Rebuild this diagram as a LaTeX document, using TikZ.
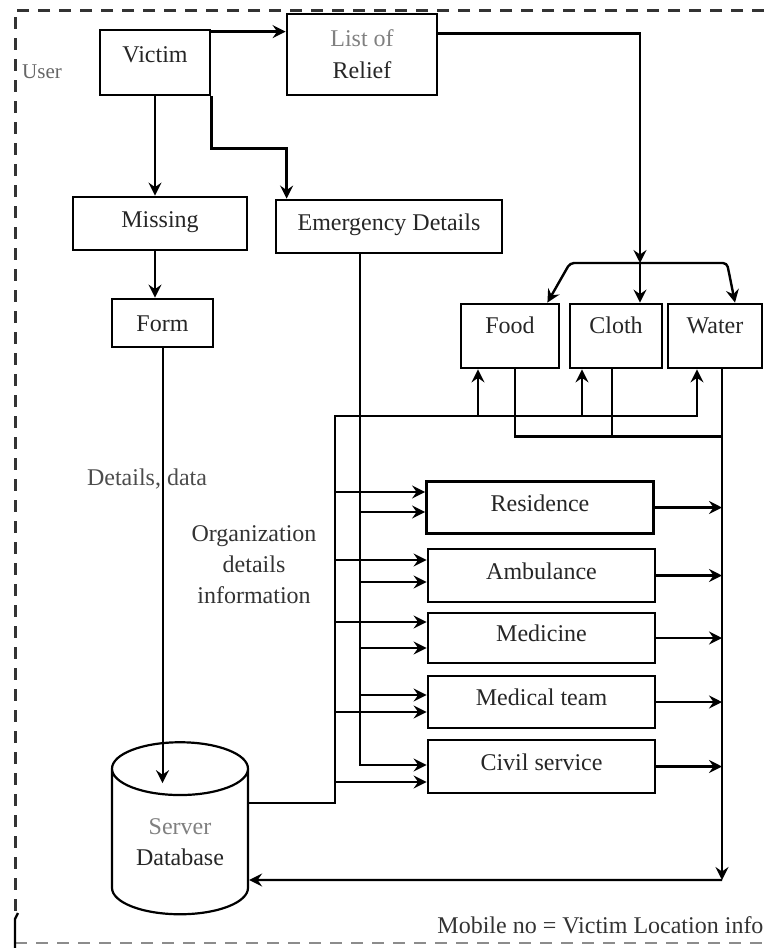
\documentclass[tikz,border=0pt]{standalone}
\usepackage{fontspec}
\setmainfont{Liberation Serif}
\usepackage{tikz}
\usetikzlibrary{arrows.meta,shapes.geometric,calc}
\newcommand{\lbl}{\fontsize{24}{31}\selectfont}
\newcommand{\usr}{\fontsize{21}{24}\selectfont}
\tikzstyle{block}=[draw, line width=2.8pt, inner sep=0pt, font=\lbl, text=black!85]
\tikzstyle{oneline}=[block, text height=17pt, text depth=10pt]
\tikzstyle{service}=[oneline, minimum width=227pt, minimum height=52pt]
\tikzstyle{wire}=[line width=2.4pt]
\tikzstyle{link}=[wire, -{Stealth[length=13pt,width=13pt,inset=4.5pt]}]
\tikzstyle{frame}=[line width=3pt, black!80, dash pattern=on 12pt off 9pt]

\begin{document}
\begin{tikzpicture}[x=1pt,y=-1pt]
	\useasboundingbox (0,0) rectangle (764,948);
	\draw[frame] (764,10) -- (15,10) -- (15,912);
	\draw[frame, black!45, line width=2pt] (15,943) -- (764,943);
	\draw[line width=2.4pt] (18,913) -- (15,919) -- (15,948);
	\node[font=\usr, text=black!60] (user) at (42,72) {User};
%
	\node[oneline, minimum width=110pt, minimum height=65pt, text depth=17pt] (victim) at (155,62.5) {Victim};
	\node[block, align=center, minimum width=150pt, minimum height=81pt] (relief) at (362,54.5) {\textcolor{black!50}{List of}\\[1pt]Relief};
	\node[oneline, minimum width=174pt, minimum height=53pt] (missing) at (160,223.5) {Missing};
	\node[oneline, minimum width=226pt, minimum height=53pt] (emerg) at (389,226.5) {Emergency Details};
	\node[oneline, minimum width=101pt, minimum height=48pt, text depth=0pt] (form) at (162.5,323) {Form};
%
	\node[oneline, minimum width=98pt, minimum height=64pt, text depth=23pt] (food) at (510,336) {Food};
	\node[oneline, minimum width=92pt, minimum height=64pt, text depth=23pt] (cloth) at (616,336) {Cloth};
	\node[oneline, minimum width=94pt, minimum height=64pt, text depth=23pt] (water) at (715,336) {Water};
%
	\node[service] (resid) at (540,507.5) {Residence};
	\node[service, minimum height=53pt] (ambul) at (541.5,575.5) {Ambulance};
	\node[service, minimum height=50pt] (medic) at (541.5,638) {Medicine};
	\node[service] (medteam) at (541.5,702) {Medical team};
	\node[service, minimum height=53pt] (civil) at (541.5,766.5) {Civil service};
%
	\node[block, line width=2.2pt, cylinder, shape border rotate=90, aspect=0.6, minimum width=136pt, minimum height=172pt, align=center] (dbase) at (180,842) {\textcolor{black!50}{Server}\\Database};
%
	\node[font=\lbl, text=black!70] (detail) at (147,479) {Details, data};
	\node[font=\lbl, text=black!80, align=center] (orginfo) at (254,565) {Organization\\details\\information};
	\node[font=\lbl, text=black!80, anchor=east] (mobile) at (767,925) {Mobile no = Victim Location info};
%
	% victim side
	\coordinate (vr) at ([yshift=-3pt]victim.north east);
	\draw[link] (vr) -- (vr -| relief.west);
	\draw[link] (victim.south) -- (victim.south |- missing.north);
	\draw[link] (victim.south east) -- ++(0,52) -| ([xshift=12pt]emerg.north west);
	\draw[link] (victim.south |- missing.south) -- (victim.south |- form.north);
	\coordinate (dbtop) at ([yshift=-42pt]dbase.north);
	\draw[link, line width=2pt] (form.south) -- (form.south |- dbtop);
%
	% relief split
	\coordinate (split) at (640,263);
	\coordinate (sl) at (570,263);
	\coordinate (sr) at (727,263);
	\draw[link] ([yshift=21pt]relief.east) -| (split);
	\draw[link, rounded corners=4pt] (split) -- (sl) -- ([xshift=-13pt]food.north east);
	\draw[link, rounded corners=4pt] (split) -- (sr) -- ([xshift=20pt]water.north);
	\draw[link] (split) -- (split |- cloth.north);
%
	% organization bus
	\coordinate (obus) at (335,416);
	\coordinate (fin) at ([xshift=-32pt]food.south);
	\coordinate (cin) at ([xshift=-34pt]cloth.south);
	\draw[link] ([yshift=39pt]dbase.east) -| (obus) -| ([xshift=-18pt]water.south);
	\draw[link] (fin |- obus) -- (fin);
	\draw[link] (cin |- obus) -- (cin);
%
	% emergency bus
	\coordinate (ebus) at ([xshift=-29pt]emerg.south);
	\draw[link] (ebus) |- ([yshift=1.5pt]civil.west);
	\foreach \svc/\oy/\ey in {resid/15.5/-4.5, ambul/15.5/-6.5, medic/16/-10, medteam/-10/7}{
		\draw[link] ([yshift=\oy pt]\svc.west -| obus) -- ([yshift=\oy pt]\svc.west);
		\draw[link] ([yshift=\ey pt]\svc.west -| ebus) -- ([yshift=\ey pt]\svc.west);
	}
	\draw[link] ([yshift=-15.5pt]civil.west -| obus) -- ([yshift=-15.5pt]civil.west);
%
	% back to server
	\coordinate (wout) at ([xshift=7pt]water.south);
	\coordinate (rbus) at (wout |- 0,880);
	\draw[wire] ([xshift=5pt]food.south) -- ++(0,67) -| (wout);
	\draw[wire] ([xshift=-4pt]cloth.south) -- ++(0,67);
	\draw[link] (wout) -- (rbus);
	\draw[link] (rbus) -- ([yshift=-38pt]dbase.east);
	\foreach \svc in {resid, ambul, medic, medteam, civil}
		\draw[link] (\svc.east) -- (\svc.east -| rbus);
\end{tikzpicture}
\end{document}
